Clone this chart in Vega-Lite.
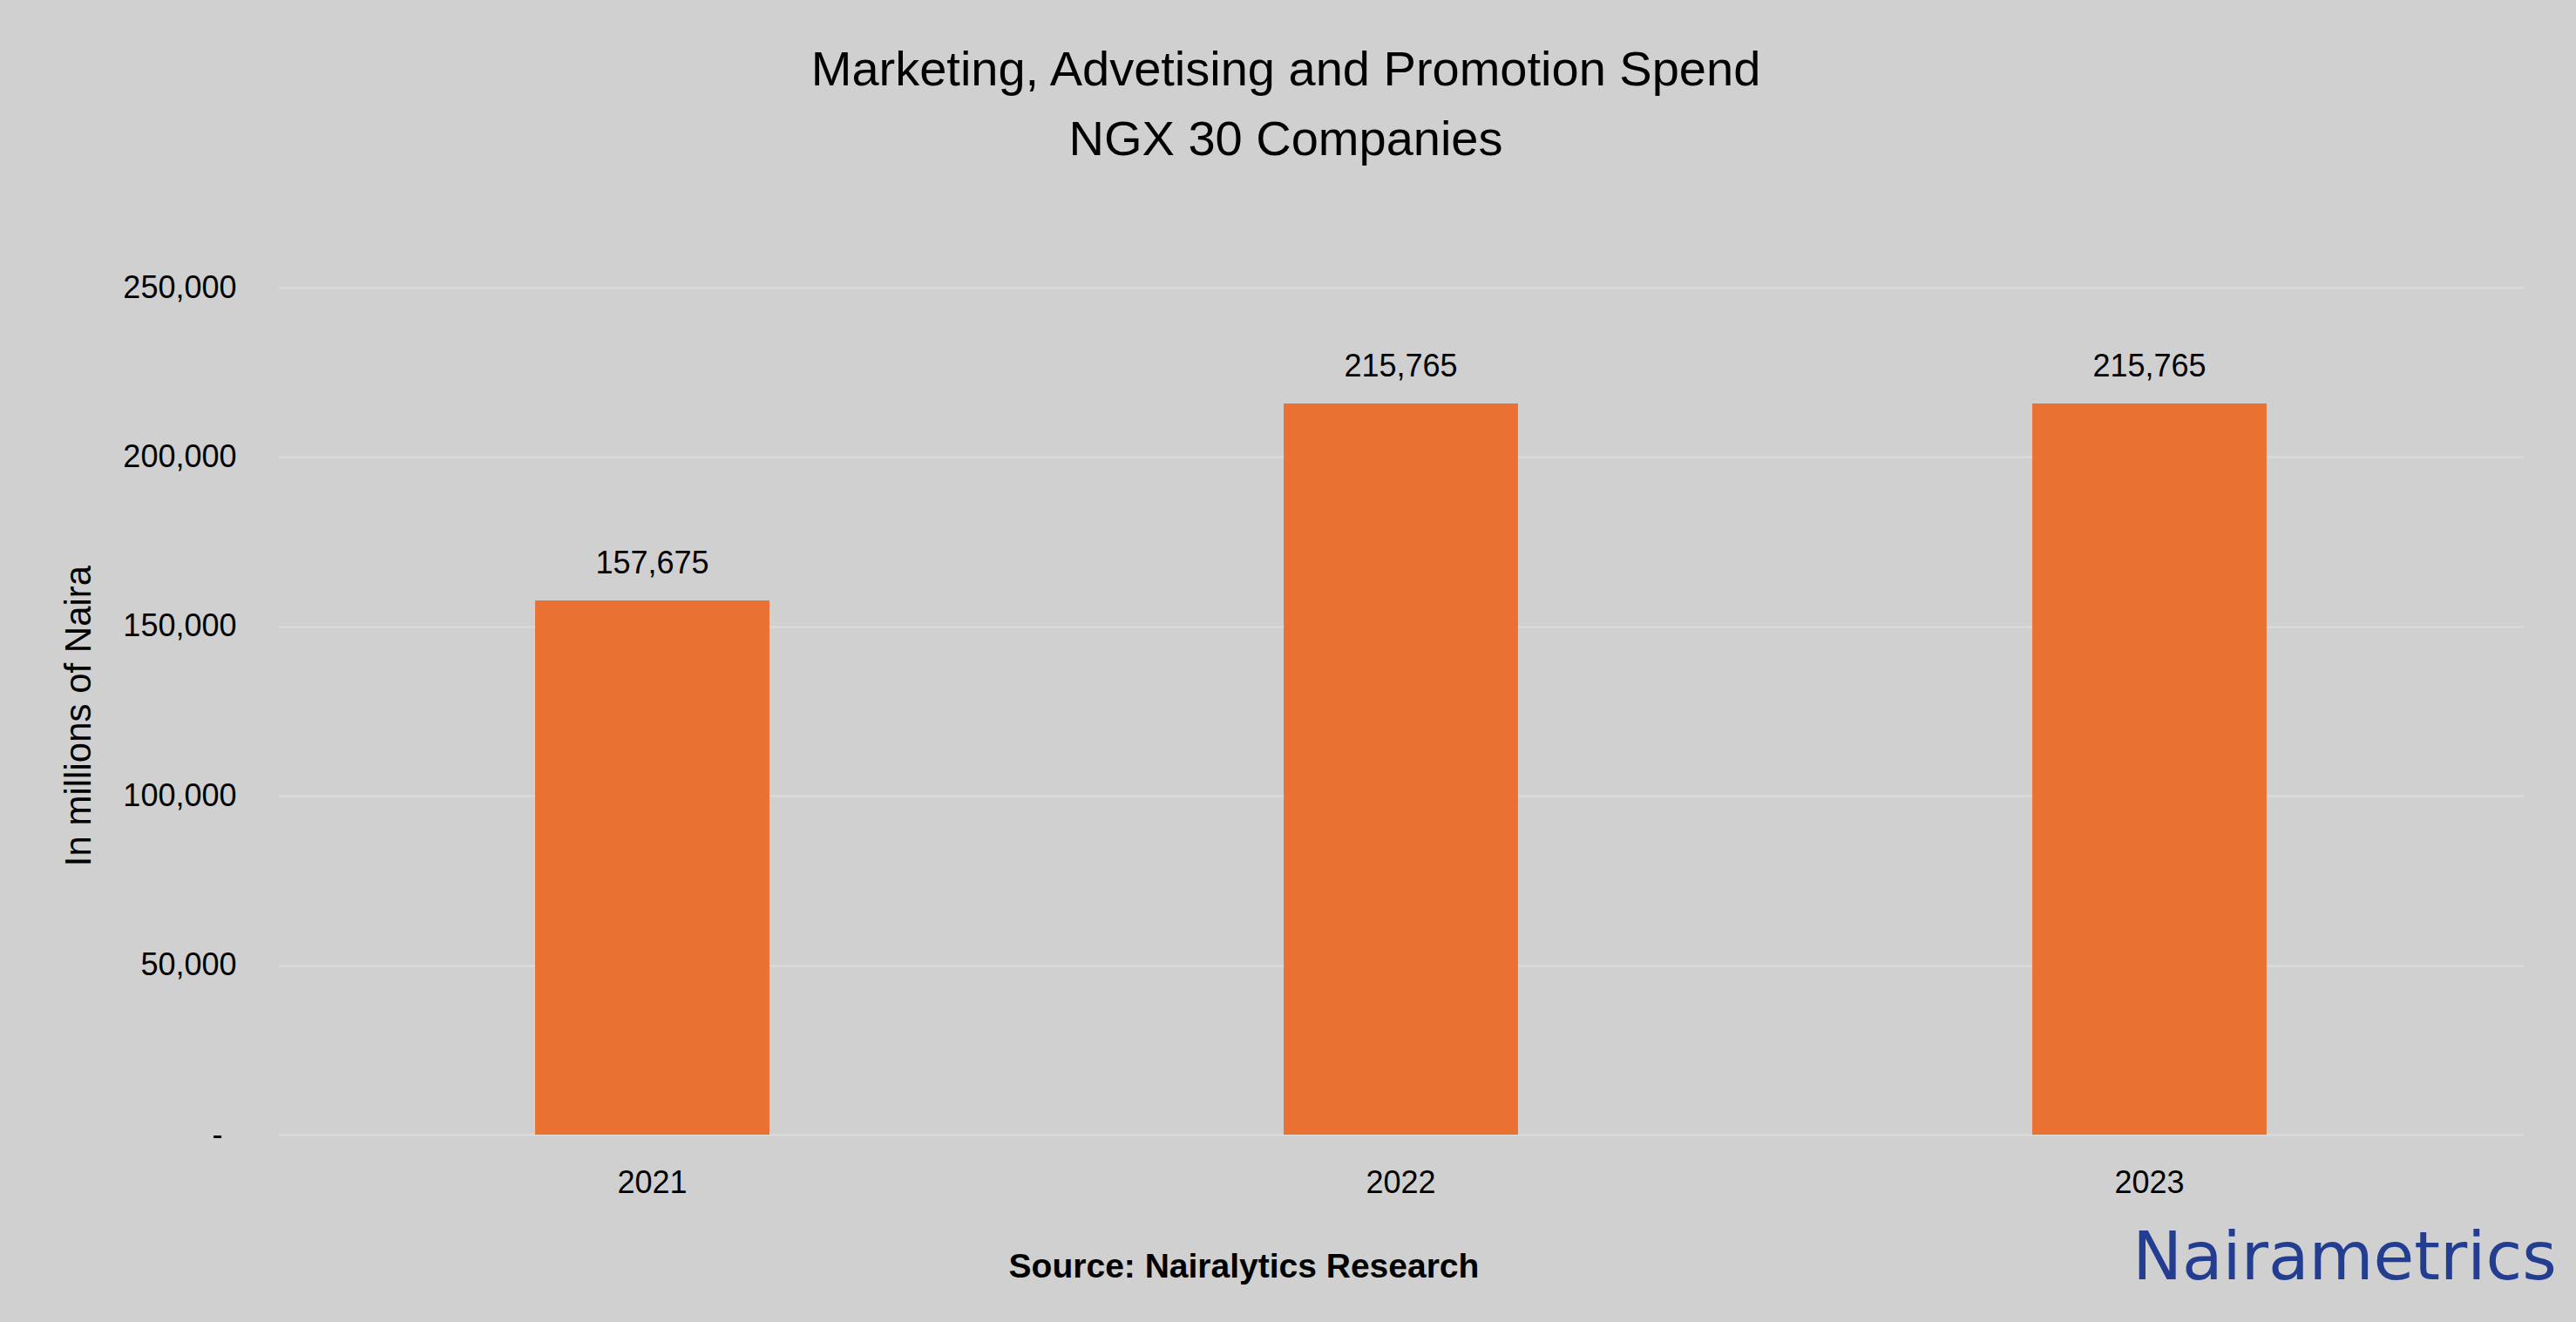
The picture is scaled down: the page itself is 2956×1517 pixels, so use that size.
{
  "$schema": "https://vega.github.io/schema/vega-lite/v6.json",
  "autosize": "none",
  "width": 2577,
  "height": 972,
  "padding": {"left": 319, "top": 330, "right": 60, "bottom": 215},
  "background": "#D0D0D0",
  "title": {
    "text": ["Marketing, Advetising and Promotion Spend", "NGX 30 Companies"],
    "font": "Liberation Sans",
    "fontSize": 56,
    "fontWeight": "normal",
    "color": "#000000",
    "lineHeight": 80,
    "anchor": "middle",
    "frame": "group",
    "dx": -132,
    "offset": 122
  },
  "config": {
    "view": {"stroke": null},
    "font": "Liberation Sans",
    "axis": {"ticks": false, "tickSize": 0, "domain": false}
  },
  "data": {
    "values": [
      {"year": "2021", "spend": 157675},
      {"year": "2022", "spend": 215765},
      {"year": "2023", "spend": 215765}
    ]
  },
  "encoding": {
    "x": {
      "field": "year",
      "type": "ordinal",
      "scale": {"type": "band", "paddingInner": 0, "paddingOuter": 0},
      "axis": {
        "title": "Source: Nairalytics Research",
        "titleFont": "Liberation Sans",
        "titleFontSize": 39,
        "titleFontWeight": "bold",
        "titleColor": "#000000",
        "titleX": 1108,
        "titleY": 163,
        "titleBaseline": "alphabetic",
        "titleAlign": "center",
        "labelFontSize": 36,
        "labelColor": "#000000",
        "labelPadding": 38,
        "labelAngle": 0,
        "grid": false
      }
    },
    "y": {
      "field": "spend",
      "type": "quantitative",
      "scale": {"domain": [0, 250000], "nice": false},
      "axis": {
        "title": "In millions of Naira",
        "titleFontSize": 42,
        "titleFontWeight": "normal",
        "titleColor": "#000000",
        "titleX": -216,
        "titleY": 491,
        "titleBaseline": "alphabetic",
        "titleAlign": "center",
        "values": [0, 50000, 100000, 150000, 200000, 250000],
        "labelExpr": "datum.value === 0 ? '-' : format(datum.value, ',')",
        "labelFontSize": 36,
        "labelColor": "#000000",
        "labelPadding": {"condition": {"test": "datum.value === 0", "value": 64}, "value": 48},
        "gridColor": "#DCDCDC",
        "gridWidth": 2,
        "gridOpacity": 1
      }
    }
  },
  "layer": [
    {
      "mark": {"type": "bar", "color": "#E97132", "width": {"band": 0.313}}
    },
    {
      "mark": {"type": "text", "baseline": "alphabetic", "dy": -31, "fontSize": 36, "color": "#000000"},
      "encoding": {"text": {"field": "spend", "type": "quantitative", "format": ","}}
    },
    {
      "data": {"values": [{"logo": "Nairametrics", "year": "2023", "spend": 0}]},
      "mark": {"type": "text", "font": "DejaVu Sans", "fontSize": 76, "color": "#233E91", "dx": 224, "dy": 166, "baseline": "alphabetic", "align": "center", "clip": false},
      "encoding": {
        "text": {"field": "logo", "type": "nominal"}
      }
    }
  ]
}
